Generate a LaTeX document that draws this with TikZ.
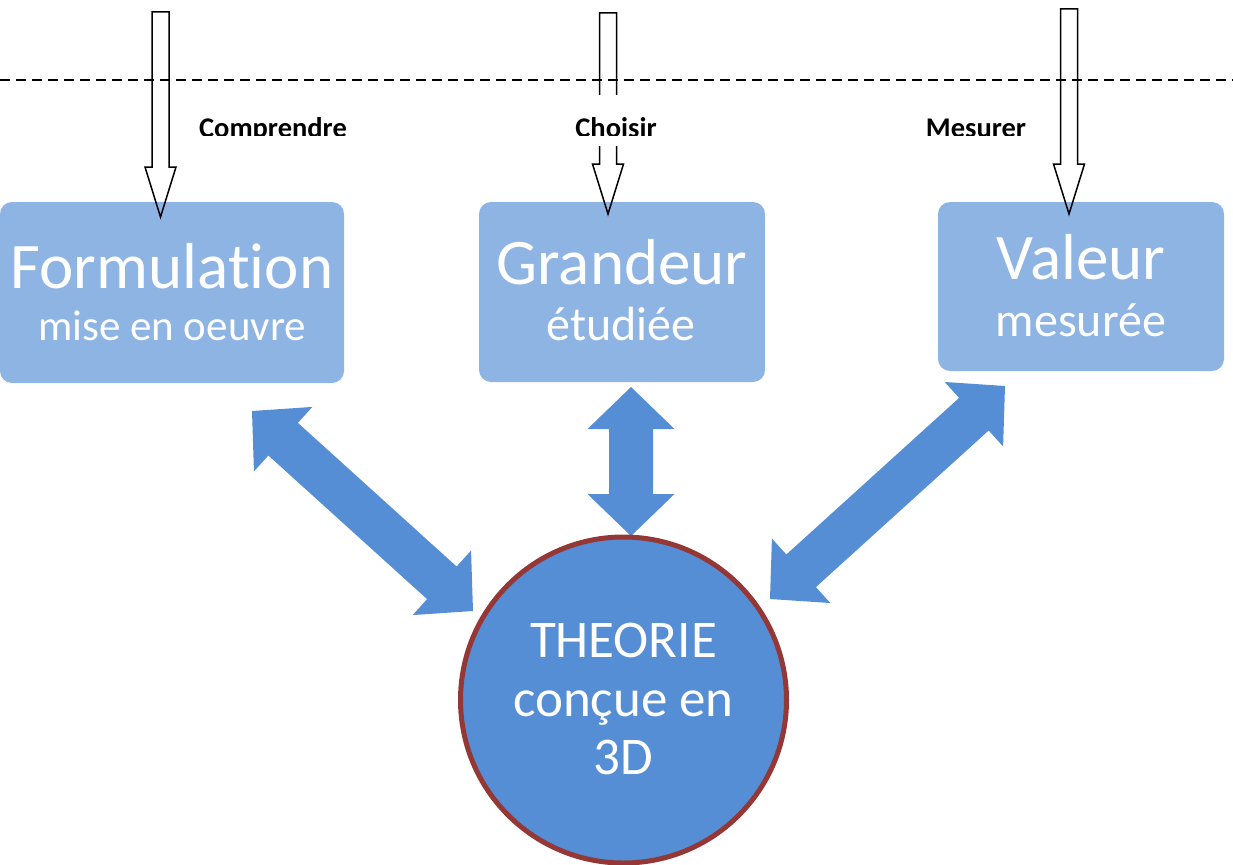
\documentclass[tikz,border=0pt]{standalone}
\usepackage{fontspec}
\setmainfont{Carlito}[Ligatures={NoCommon}]
\usetikzlibrary{calc}
\definecolor{boxblue}{HTML}{8EB4E3}
\definecolor{arrblue}{HTML}{558ED5}
\definecolor{rim}{HTML}{953735}
\newcommand\dblarrow[2]{%
  \coordinate (#1h) at ($(#1)!42pt!(#2)$);
  \coordinate (#2h) at ($(#2)!42pt!(#1)$);
  \fill[arrblue] (#1) -- ($(#1h)!43.5pt!90:(#2)$) -- ($(#1h)!22pt!90:(#2)$)
    -- ($(#2h)!22pt!-90:(#1)$) -- ($(#2h)!43.5pt!-90:(#1)$) -- (#2)
    -- ($(#2h)!43.5pt!90:(#1)$) -- ($(#2h)!22pt!90:(#1)$)
    -- ($(#1h)!22pt!-90:(#2)$) -- ($(#1h)!43.5pt!-90:(#2)$) -- cycle;}
\newcommand\hollowarrow[2]{%
  \coordinate (#1h) at ($(#2)!50pt!(#1)$);
  \draw[line width=1.5pt, line join=miter] ($(#1)!8.5pt!90:(#2)$) -- ($(#1h)!8.5pt!90:(#2)$)
    -- ($(#1h)!15.5pt!90:(#2)$) -- (#2) -- ($(#1h)!15.5pt!-90:(#2)$)
    -- ($(#1h)!8.5pt!-90:(#2)$) -- ($(#1)!8.5pt!-90:(#2)$) -- cycle;}
\tikzset{
  bluebox/.style={fill=boxblue, rounded corners=12pt, inner sep=0pt},
  big/.style={text=white, anchor=base, inner sep=0pt, font=\fontsize{65}{65}\selectfont},
  small/.style={text=white, anchor=base, inner sep=0pt},
  circtext/.style={text=white, anchor=base, inner sep=0pt, font=\fontsize{53}{53}\selectfont},
  lab/.style={anchor=base, inner sep=0pt, font=\bfseries\fontsize{28.5}{28.5}\selectfont},
}
\begin{document}
\begin{tikzpicture}[x=1pt, y=-1pt]
\useasboundingbox (0,0) rectangle (1233,864);
% dashed line
\coordinate (dl) at (0,80);
\coordinate (dr) at (1233,80);
\draw[line width=2pt, dash pattern=on 10pt off 6pt] (dl) -- (dr);
% boxes
\path[bluebox] (0,202) rectangle (344,383);
\path[bluebox] (479,202) rectangle (765,382);
\path[bluebox] (938,202) rectangle (1224,371);
\node[big] (form) at (172,288) {Formulation};
\node[small, font=\fontsize{43}{43}\selectfont] (mise) at (172,340) {mise en oeuvre};
\node[big] (grand) at (622,284) {Grandeur};
\node[small, font=\fontsize{48}{48}\selectfont] (etud) at (621,340) {étudiée};
\node[big] (val) at (1081,279) {Valeur};
\node[small, font=\fontsize{48}{48}\selectfont] (mesu) at (1081,336) {mesurée};
% hollow arrows
\coordinate (a1t) at (160.5,12);  \coordinate (a1p) at (160.5,217);
\coordinate (a2t) at (608,13);    \coordinate (a2p) at (608,214);
\coordinate (a3t) at (1069,9);    \coordinate (a3p) at (1069,214);
\hollowarrow{a1t}{a1p}
\hollowarrow{a2t}{a2p}
\hollowarrow{a3t}{a3p}
% label box for Choisir
\fill[white] (574,95) rectangle (660,146);
\begin{scope}
  \clip (0,0) rectangle (1233,135);
  \node[lab] (comp) at (273,138) {Comprendre};
  \node[lab] (chois) at (616,138) {Choisir};
  \node[lab] (mes) at (976,138) {Mesurer};
\end{scope}
% double arrows
\coordinate (lA) at (252,411); \coordinate (lB) at (473,611);
\coordinate (mA) at (631,387); \coordinate (mB) at (631,536);
\coordinate (rA) at (1005,386); \coordinate (rB) at (770,599);
\dblarrow{lA}{lB}
\dblarrow{mA}{mB}
\dblarrow{rA}{rB}
% circle
\node[circle, fill=arrblue, draw=rim, line width=5pt, minimum size=326pt, inner sep=0pt] (theo) at (623.5,700) {};
\node[circtext] (t1) at (623.5,657) {THEORIE};
\node[circtext] (t2) at (623.5,716) {conçue en};
\node[circtext] (t3) at (623.5,774) {3D};
\end{tikzpicture}
\end{document}
